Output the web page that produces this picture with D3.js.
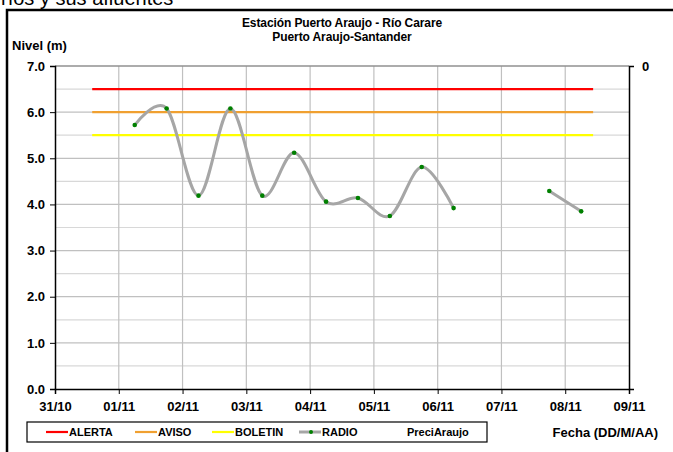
<!DOCTYPE html>
<html>
<head>
<meta charset="utf-8">
<script src="https://cdn.jsdelivr.net/npm/d3@7"></script>
<style>
  body { margin: 0; background: #fff; }
  svg { display: block; font-family: "Liberation Sans", Arial, sans-serif; font-weight: bold; }
</style>
</head>
<body>
<div id="chart"></div>
<script>
// data
const radioTimes = ['2012-11-01T06:00', '2012-11-01T18:00', '2012-11-02T06:00', '2012-11-02T18:00',
  '2012-11-03T06:00', '2012-11-03T18:00', '2012-11-04T06:00', '2012-11-04T18:00',
  '2012-11-05T06:00', '2012-11-05T18:00', '2012-11-06T06:00', '2012-11-06T18:00',
  '2012-11-07T06:00', '2012-11-07T18:00', '2012-11-08T06:00'];
const radioValues = [5.72, 6.08, 4.19, 6.08, 4.19, 5.12, 4.06, 4.14, 3.75, 4.81, 3.92, null, null, 4.29, 3.85];
const thresholdSpan = ['2012-10-31T14:00', '2012-11-08T10:30'];
const thresholdNames  = ['ALERTA', 'AVISO', 'BOLETIN'];
const thresholdValues = [6.5, 6.0, 5.5];
const thresholdColors = ['#ff0000', '#f0a030', '#ffff00'];
const yTicks = [0, 1, 2, 3, 4, 5, 6, 7];
const legendNames = ['ALERTA', 'AVISO', 'BOLETIN', 'RADIO', 'PreciAraujo'];

const W = 673, H = 452;
const margin = { top: 66, right: 44, bottom: 63, left: 55 };
const iW = W - margin.left - margin.right;
const iH = H - margin.top - margin.bottom;

const parse = d3.isoParse;
const fmt = d3.timeFormat('%d/%m');

const svg = d3.select('#chart').append('svg').attr('width', W).attr('height', H);

// cut-off heading and outer frame
svg.append('text').attr('x', 1).attr('y', 5).style('font-size', '20px').style('font-weight', 'normal')
  .text('ríos y sus afluentes');
svg.append('rect').attr('x', 7).attr('y', 10).attr('width', 700).attr('height', 500)
  .attr('fill', 'none').attr('stroke', '#000').attr('stroke-width', 2.5);

const g = svg.append('g').attr('transform', `translate(${margin.left},${margin.top})`);

const x = d3.scaleTime().domain([parse('2012-10-31T00:00'), parse('2012-11-09T00:00')]).range([0, iW]);
const y = d3.scaleLinear().domain([0, 7]).range([iH, 0]);

// gridlines
g.append('g').selectAll('line').data(d3.range(0.5, 7, 0.5)).join('line')
  .attr('x1', 0).attr('x2', iW).attr('y1', d => y(d)).attr('y2', d => y(d))
  .attr('stroke', d => d % 1 === 0 ? '#c0c0c0' : '#d8d8d8').attr('stroke-width', 1.2);
g.append('g').selectAll('line').data(x.ticks(d3.timeDay.every(1)).slice(1, -1)).join('line')
  .attr('x1', d => x(d)).attr('x2', d => x(d)).attr('y1', 0).attr('y2', iH)
  .attr('stroke', '#c0c0c0').attr('stroke-width', 1.2);
g.append('line').attr('x1', 0).attr('x2', iW).attr('y1', 0).attr('y2', 0)
  .attr('stroke', '#909090').attr('stroke-width', 1.5);

// threshold lines
thresholdValues.forEach((v, i) => {
  g.append('line')
    .attr('x1', x(parse(thresholdSpan[0]))).attr('x2', x(parse(thresholdSpan[1])))
    .attr('y1', y(v)).attr('y2', y(v))
    .attr('stroke', thresholdColors[i]).attr('stroke-width', 2.2);
});

// radio series
const pts = radioTimes.map((t, i) => ({ t: parse(t), v: radioValues[i] }));
const line = d3.line().defined(d => d.v != null)
  .x(d => x(d.t)).y(d => y(d.v))
  .curve(d3.curveCardinal.tension(0));
g.append('path').datum(pts).attr('d', line)
  .attr('fill', 'none').attr('stroke', '#a6a6a6').attr('stroke-width', 3);
g.selectAll('.dot').data(pts.filter(d => d.v != null)).join('circle')
  .attr('class', 'dot').attr('cx', d => x(d.t)).attr('cy', d => y(d.v)).attr('r', 2.3)
  .attr('fill', '#008000');

// axes
g.append('g').call(d3.axisLeft(y).tickValues(yTicks).tickFormat(d3.format('.1f')).tickSize(5).tickPadding(5))
  .call(a => a.select('.domain').attr('stroke', '#000').attr('stroke-width', 1.5))
  .call(a => a.selectAll('text').style('font-size', '13px').style('font-family', 'Liberation Sans').attr('fill', '#000'));
g.append('g').attr('transform', `translate(0,${iH})`)
  .call(d3.axisBottom(x).ticks(d3.timeDay.every(1)).tickFormat(fmt).tickSize(5).tickPadding(8))
  .call(a => a.select('.domain').attr('stroke', '#000').attr('stroke-width', 1.5))
  .call(a => a.selectAll('text').style('font-size', '13px').style('font-family', 'Liberation Sans').attr('fill', '#000'));
g.append('g').attr('transform', `translate(${iW},0)`)
  .call(d3.axisRight(y).tickValues([7]).tickFormat(() => '0').tickSize(5).tickPadding(8))
  .call(a => a.select('.domain').attr('stroke', '#000').attr('stroke-width', 1.5))
  .call(a => a.selectAll('text').style('font-size', '13px').style('font-family', 'Liberation Sans').attr('fill', '#000'));

// titles
svg.append('text').attr('x', 342).attr('y', 27).attr('text-anchor', 'middle')
  .style('font-size', '12px').style('letter-spacing', '-0.1px').text('Estación Puerto Araujo - Río Carare');
svg.append('text').attr('x', 342).attr('y', 41).attr('text-anchor', 'middle')
  .style('font-size', '12px').style('letter-spacing', '-0.1px').text('Puerto Araujo-Santander');
svg.append('text').attr('x', 12).attr('y', 50)
  .style('font-size', '13px').text('Nivel (m)');
svg.append('text').attr('x', 658).attr('y', 437).attr('text-anchor', 'end')
  .style('font-size', '13px').text('Fecha (DD/M/AA)');

// legend
const legend = svg.append('g');
legend.append('rect').attr('x', 27).attr('y', 422).attr('width', 460).attr('height', 20)
  .attr('fill', '#fff').attr('stroke', '#000').attr('stroke-width', 1.2);
const legX = [46, 135, 212, 299, 407];
const legColors = thresholdColors.concat(['#a6a6a6', null]);
legendNames.forEach((name, i) => {
  const lx = legX[i];
  if (legColors[i]) {
    legend.append('line').attr('x1', lx).attr('x2', lx + 22).attr('y1', 432).attr('y2', 432)
      .attr('stroke', legColors[i]).attr('stroke-width', i === 3 ? 3 : 2.2);
    if (i === 3) legend.append('circle').attr('cx', lx + 12).attr('cy', 432).attr('r', 2).attr('fill', '#008000');
  }
  legend.append('text').attr('x', legColors[i] ? lx + 23 : lx).attr('y', 436)
    .style('font-size', '11px').text(name);
});
</script>
</body>
</html>
